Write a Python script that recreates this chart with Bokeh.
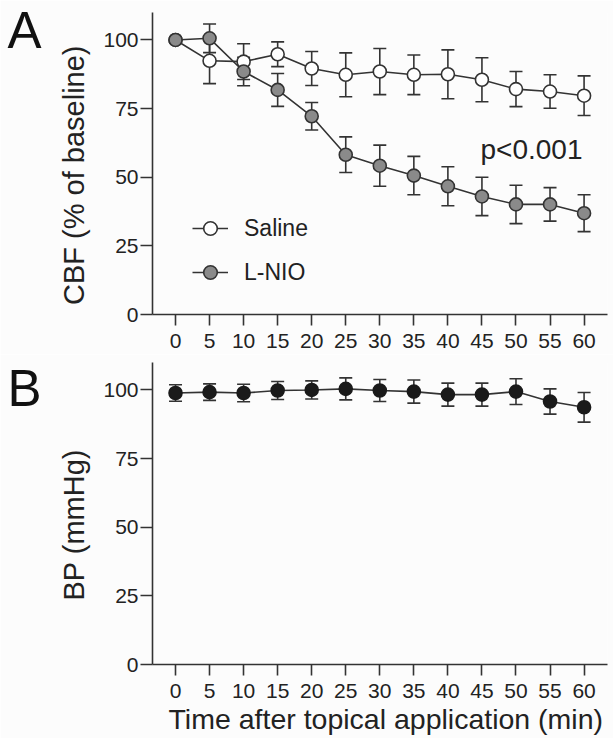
import numpy as np
from bokeh.plotting import figure
from bokeh.models import (ColumnDataSource, Whisker, TeeHead, Range1d, FixedTicker,
                          Label, Legend, LegendItem, LinearAxis, Title)
from bokeh.layouts import column
from bokeh.embed import file_html
from bokeh.resources import INLINE

# ---------------- data ----------------
time_min = [0, 5, 10, 15, 20, 25, 30, 35, 40, 45, 50, 55, 60]
y_ticks = [0, 25, 50, 75, 100]

saline_mean = [100, 92.4, 92.1, 94.8, 89.6, 87.3, 88.5, 87.3, 87.5, 85.5, 82.1, 81.2, 79.7]
saline_sem = [0, 8.3, 6.5, 4.5, 6.2, 8.0, 8.4, 7.2, 8.9, 8.0, 6.4, 6.1, 7.2]

lnio_mean = [100, 100.6, 88.5, 81.8, 72.2, 58.2, 54.2, 50.6, 46.7, 43.0, 40.1, 40.1, 36.9]
lnio_sem = [0, 5.2, 5.2, 6.0, 5.0, 6.5, 7.5, 7.0, 7.1, 7.0, 7.0, 6.1, 6.7]

bp_mean = [98.9, 99.2, 98.9, 99.8, 100.0, 100.4, 99.8, 99.4, 98.3, 98.3, 99.4, 95.8, 93.7]
bp_sem = [3.0, 3.0, 3.2, 3.3, 3.3, 4.0, 4.0, 4.2, 4.2, 4.2, 4.7, 4.6, 5.4]

# ---------------- style ----------------
FONT = "Liberation Sans"
BG = "#fcfcfc"
AX = "#333333"
TXT = "#222222"
LETTER_POS = 104.4   # vertical placement of the panel letter (layout only)


def make_fig(top_border, bottom_border):
    p = figure(frame_width=455, frame_height=302,
               x_range=Range1d(-3.38, 63.44), y_range=Range1d(0, 110),
               output_backend="svg", toolbar_location=None,
               min_border_left=152, min_border_right=6, min_border_top=top_border,
               min_border_bottom=bottom_border,
               background_fill_color=BG, border_fill_color=BG,
               outline_line_color=None)
    p.grid.visible = False
    for ax in (p.xaxis[0], p.yaxis[0]):
        ax.axis_line_color = AX
        ax.axis_line_width = 1.6
        ax.major_tick_line_color = AX
        ax.major_tick_line_width = 1.6
        ax.major_tick_in = 0
        ax.minor_tick_line_color = None
        ax.major_label_text_font = FONT
        ax.major_label_text_font_size = "21px"
        ax.major_label_text_color = TXT
    p.xaxis.ticker = FixedTicker(ticks=time_min)
    p.yaxis.ticker = FixedTicker(ticks=y_ticks)
    p.xaxis.major_tick_out = 11
    p.xaxis.major_label_standoff = 8
    p.yaxis.major_tick_out = 12
    p.yaxis.major_label_standoff = 2
    return p


def add_ylabel(p, text, offset):
    p.add_layout(Title(text=text, align="left", offset=offset, standoff=21,
                       text_font=FONT, text_font_size="29px", text_font_style="normal",
                       text_color=TXT), "left")


def add_letter(p, letter):
    ax = LinearAxis(ticker=FixedTicker(ticks=[LETTER_POS]),
                    major_label_overrides={LETTER_POS: letter},
                    axis_line_color=None, major_tick_line_color=None,
                    minor_tick_line_color=None, major_tick_out=0, major_tick_in=0,
                    major_label_standoff=4,
                    major_label_text_font=FONT, major_label_text_font_size="51px",
                    major_label_text_color="#111111")
    p.add_layout(ax, "left")


def add_err(p, t, m, s, color=AX):
    src = ColumnDataSource(dict(t=t,
                                upper=[a + b for a, b in zip(m, s)],
                                lower=[a - b for a, b in zip(m, s)]))
    w = Whisker(source=src, base="t", upper="upper", lower="lower",
                dimension="height", line_color=color, line_width=1.6,
                upper_head=TeeHead(size=13, line_color=color, line_width=1.6),
                lower_head=TeeHead(size=13, line_color=color, line_width=1.6),
                level="underlay")
    p.add_layout(w)


# ---------------- panel A ----------------
pA = make_fig(12, 40)
add_err(pA, time_min, saline_mean, saline_sem)
add_err(pA, time_min, lnio_mean, lnio_sem)

sal_src = ColumnDataSource(dict(t=time_min, y=saline_mean))
lnio_src = ColumnDataSource(dict(t=time_min, y=lnio_mean))

l1 = pA.line("t", "y", source=sal_src, line_color=AX, line_width=1.6)
l2 = pA.line("t", "y", source=lnio_src, line_color=AX, line_width=1.6)
s1 = pA.scatter("t", "y", source=sal_src, size=13, fill_color="#ffffff",
                line_color=AX, line_width=1.6)
s2 = pA.scatter("t", "y", source=lnio_src, size=13, fill_color="#8a8a8a",
                line_color=AX, line_width=1.6)

legend = Legend(items=[LegendItem(label="Saline", renderers=[l1, s1]),
                       LegendItem(label="L-NIO", renderers=[l2, s2])],
                location=(40, 25), orientation="vertical",
                glyph_width=36, glyph_height=34, spacing=10, padding=0, margin=0,
                label_standoff=16, border_line_color=None, background_fill_alpha=0,
                label_text_font=FONT, label_text_font_size="23px",
                label_text_color=TXT)
pA.add_layout(legend)

pA.add_layout(Label(x=328, y=165, x_units="screen", y_units="screen",
                    text="p<0.001", text_font=FONT, text_font_size="28px",
                    text_color=TXT, text_align="left", text_baseline="alphabetic"))
add_ylabel(pA, "CBF (% of baseline)", 9.5)
add_letter(pA, "A")

# ---------------- panel B ----------------
pB = make_fig(8, 74)
add_err(pB, time_min, bp_mean, bp_sem)
bp_src = ColumnDataSource(dict(t=time_min, y=bp_mean))
pB.line("t", "y", source=bp_src, line_color=AX, line_width=1.6)
pB.scatter("t", "y", source=bp_src, size=13, fill_color="#1a1a1a",
           line_color="#1a1a1a", line_width=1.6)
add_ylabel(pB, "BP (mmHg)", 64)
add_letter(pB, "B")
pB.add_layout(Title(text="Time after topical application (min)", align="left",
                    offset=16, standoff=0, text_font=FONT, text_font_size="28.5px",
                    text_font_style="normal", text_color=TXT), "below")

layout = column(pA, pB, spacing=0)
open("out.html", "w").write(file_html(layout, INLINE))
